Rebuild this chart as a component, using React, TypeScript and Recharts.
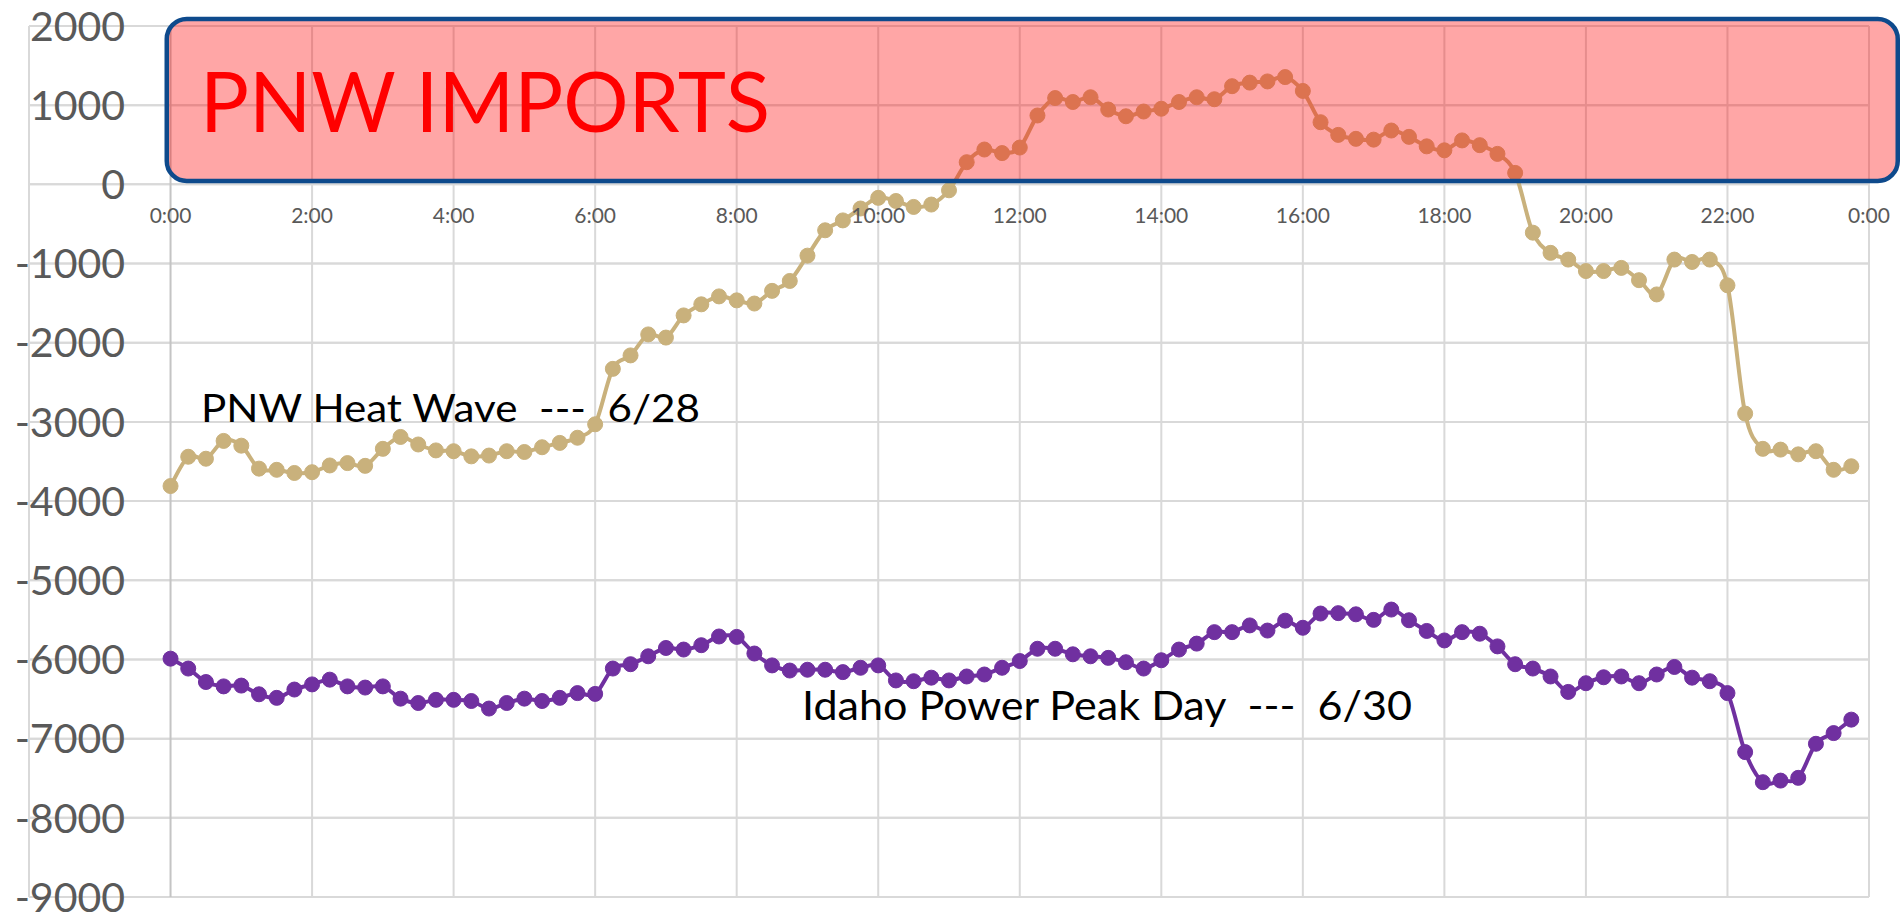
import React from 'react';
import { LineChart, Line, XAxis, YAxis, CartesianGrid, ReferenceLine, ReferenceDot } from 'recharts';

// ---- data (15-minute readings, MW) ----
const pnwHeatWave = [
  -3810, -3440, -3465, -3240, -3300, -3590, -3605, -3645, -3635, -3550, -3520, -3555,
  -3340, -3190, -3285, -3360, -3370, -3435, -3425, -3370, -3380, -3320, -3265, -3200,
  -3030, -2330, -2160, -1895, -1935, -1655, -1515, -1415, -1465, -1505, -1345, -1220,
  -900, -580, -455, -305, -170, -210, -285, -255, -75, 280, 440, 395,
  465, 870, 1090, 1040, 1100, 945, 860, 920, 955, 1040, 1100, 1075,
  1240, 1285, 1300, 1355, 1180, 785, 625, 575, 565, 680, 600, 480,
  430, 555, 495, 385, 145, -610, -865, -950, -1095, -1095, -1055, -1210,
  -1390, -950, -980, -950, -1275, -2895, -3340, -3350, -3410, -3370, -3605, -3560,
];

const idahoPeakDay = [
  -5990, -6115, -6285, -6340, -6330, -6440, -6485, -6380, -6315, -6255, -6340, -6355,
  -6340, -6495, -6550, -6510, -6510, -6525, -6620, -6550, -6495, -6525, -6485, -6425,
  -6435, -6115, -6060, -5960, -5855, -5875, -5820, -5710, -5715, -5925, -6075, -6140,
  -6130, -6130, -6160, -6105, -6075, -6265, -6275, -6230, -6265, -6215, -6190, -6105,
  -6020, -5865, -5865, -5935, -5960, -5980, -6035, -6115, -6010, -5875, -5800, -5655,
  -5655, -5570, -5635, -5510, -5600, -5420, -5415, -5430, -5500, -5370, -5505, -5640,
  -5760, -5655, -5675, -5835, -6060, -6115, -6215, -6410, -6300, -6225, -6215, -6300,
  -6190, -6095, -6230, -6275, -6425, -7170, -7550, -7530, -7495, -7065, -6930, -6760,
];

const SLOT_HOURS = 0.25; // one reading every 15 minutes

const xTickHours = [0, 2, 4, 6, 8, 10, 12, 14, 16, 18, 20, 22, 24];
const xTickLabels = ['0:00', '2:00', '4:00', '6:00', '8:00', '10:00', '12:00', '14:00', '16:00', '18:00', '20:00', '22:00', '0:00'];
const xGridHours = [-2, ...xTickHours];
const xDomain: [number, number] = [-2, 24];

const yTicks = [2000, 1000, 0, -1000, -2000, -3000, -4000, -5000, -6000, -7000, -8000, -9000];
const yDomain: [number, number] = [-9000, 2000];

const titleText = 'PNW IMPORTS';
const pnwLabel = 'PNW Heat Wave  ---  6/28';
const idahoLabel = 'Idaho Power Peak Day  ---  6/30';

const data = pnwHeatWave.map((v, i) => ({ h: i * SLOT_HOURS, pnw: v, idaho: idahoPeakDay[i] }));

// ---- styles ----
const W = 1901;
const H = 917;
const FONT = 'Lato, "Open Sans", sans-serif';
const TAN = '#C9B17C';
const PURPLE = '#7030A0';
const GRID = '#D9D9D9';
const AXIS_TEXT = '#595959';
const Y_LABEL_INSET = 96;

// Excel-like smoothed line (Catmull-Rom style bezier)
const excelSmooth = (context: any) => {
  let pts: number[][] = [];
  return {
    areaStart() {},
    areaEnd() {},
    lineStart() {
      pts = [];
    },
    point(x: number, y: number) {
      pts.push([+x, +y]);
    },
    lineEnd() {
      const n = pts.length;
      if (!n) return;
      context.moveTo(pts[0][0], pts[0][1]);
      for (let i = 0; i < n - 1; i++) {
        const p0 = pts[i - 1] || pts[i];
        const p1 = pts[i];
        const p2 = pts[i + 1];
        const p3 = pts[i + 2] || p2;
        context.bezierCurveTo(
          p1[0] + (p2[0] - p0[0]) / 6,
          p1[1] + (p2[1] - p0[1]) / 6,
          p2[0] - (p3[0] - p1[0]) / 6,
          p2[1] - (p3[1] - p1[1]) / 6,
          p2[0],
          p2[1]
        );
      }
    },
  };
};

const makeYLabel = (value: number) => (props: any) => {
  const vb = props.viewBox || {};
  const x = (vb.x ?? 0) + (vb.width ?? 0) / 2;
  const y = (vb.y ?? 0) + (vb.height ?? 0) / 2;
  return (
    <text x={x + Y_LABEL_INSET} y={y} dy="0.36em" textAnchor="end" fill={AXIS_TEXT} fontSize={41} fontFamily={FONT}>
      {value}
    </text>
  );
};

export default function App() {
  return (
    <div style={{ position: 'absolute', left: 0, top: 0, width: W, height: H, background: '#fff', overflow: 'hidden' }}>
      <LineChart width={W} height={H} data={data} margin={{ top: 26, right: 32, bottom: 20, left: 29 }}>
        <CartesianGrid vertical={false} stroke={GRID} strokeWidth={2} />
        <XAxis type="number" dataKey="h" domain={xDomain} hide allowDataOverflow />
        <YAxis type="number" domain={yDomain} ticks={yTicks} interval={0} width={0} hide allowDataOverflow />
        {yTicks.map((v) => (
          <ReferenceLine key={'hy' + v} y={v} stroke={GRID} strokeWidth={2} zIndex={-90} />
        ))}
        {xGridHours.map((h) => (
          <ReferenceLine key={'g' + h} x={h} stroke={h === 0 ? '#C4C4C4' : GRID} strokeWidth={2} zIndex={-90} />
        ))}
        {yTicks.map((v) => (
          <ReferenceDot
            key={'yl' + v}
            x={xDomain[0]}
            y={v}
            r={0}
            fill="none"
            stroke="none"
            zIndex={-80}
            label={{ content: makeYLabel(v) }}
          />
        ))}
        {xTickHours.map((h, i) => (
          <ReferenceDot
            key={'t' + h}
            x={h}
            y={0}
            r={0}
            fill="none"
            stroke="none"
            zIndex={-80}
            label={{ value: xTickLabels[i], position: 'bottom', offset: 24, fill: AXIS_TEXT, fontSize: 21, fontFamily: FONT }}
          />
        ))}
        <Line
          dataKey="pnw"
          type={excelSmooth as any}
          stroke={TAN}
          strokeWidth={4}
          dot={{ r: 7.5, fill: TAN, stroke: TAN, strokeWidth: 1 }}
          activeDot={false}
          isAnimationActive={false}
        />
        <Line
          dataKey="idaho"
          type={excelSmooth as any}
          stroke={PURPLE}
          strokeWidth={4}
          dot={{ r: 7.5, fill: PURPLE, stroke: PURPLE, strokeWidth: 1 }}
          activeDot={false}
          isAnimationActive={false}
        />
      </LineChart>
      <svg width={W} height={H} style={{ position: 'absolute', left: 0, top: 0, pointerEvents: 'none' }}>
        <rect x={166.75} y={18.95} width={1731} height={162.1} rx={20} ry={20} fill="rgba(255,0,0,0.35)" stroke="#0E4A8C" strokeWidth={4.5} />
        <text x={200} y={131.7} fill="#FF0000" fontSize={84} fontFamily={FONT} textLength={570} lengthAdjust="spacingAndGlyphs">
          {titleText}
        </text>
        <text x={201} y={421.7} fill="#000" fontSize={39.5} fontFamily={FONT} textLength={499} lengthAdjust="spacingAndGlyphs" style={{ whiteSpace: 'pre' }}>
          {pnwLabel}
        </text>
        <text x={802} y={720} fill="#000" fontSize={40} fontFamily={FONT} textLength={610} lengthAdjust="spacingAndGlyphs" style={{ whiteSpace: 'pre' }}>
          {idahoLabel}
        </text>
      </svg>
    </div>
  );
}
